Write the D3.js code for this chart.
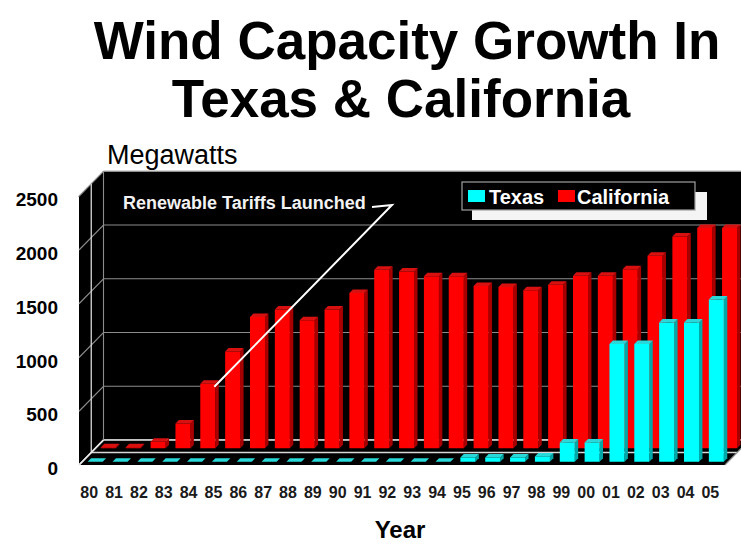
<!DOCTYPE html>
<html>
<head>
<meta charset="utf-8">
<script src="https://cdn.jsdelivr.net/npm/d3@7"></script>
<style>
  html, body { margin: 0; padding: 0; background: #ffffff; }
  svg { display: block; }
  text { font-family: "Liberation Sans", Arial, Helvetica, sans-serif; }
</style>
</head>
<body>
<svg id="chart" width="741" height="544"></svg>
<script>
// Installed wind capacity (MW), 1980-2005
const years = ["80","81","82","83","84","85","86","87","88","89","90","91","92",
               "93","94","95","96","97","98","99","00","01","02","03","04","05"];
const california = [10, 10, 60, 230, 600, 900, 1220, 1290, 1190, 1290, 1445, 1660, 1645,
                    1600, 1600, 1510, 1500, 1470, 1520, 1605, 1605, 1665, 1790, 1970, 2050, 2050];
const texas = [0, 0, 0, 0, 0, 0, 0, 0, 0, 0, 0, 0, 0,
               0, 0, 40, 40, 40, 50, 180, 180, 1095, 1095, 1295, 1295, 1510];
const yTicks = [0, 500, 1000, 1500, 2000, 2500];
const seriesNames = ["Texas", "California"];
const annotationText = "Renewable Tariffs Launched";
const annotationYear = "84";

const svg = d3.select("#chart");

// Oblique 3D projection: front plane x / value, depth d in [0,1] shifts up-right
const x = d3.scaleBand().domain(years).range([79, 725]).paddingInner(0);
const y = d3.scaleLinear().domain([0, 2500]).range([465, 196.25]);
const DX = 24.5, DY = -25;
const P = (px, v, d) => [px + DX * d, y(v) + DY * d];

const barPad = 5.5, barW = 15;
const rows = {
  Texas:      { d0: 0.13, d1: 0.27, front: "#00ffff", side: "#00a8a8", top: "#29d9d9" },
  California: { d0: 0.67, d1: 0.81, front: "#ff0000", side: "#a80000", top: "#d81010" }
};

const xLeft = x.range()[0], xRight = x.range()[1];
const poly = pts => pts.map(p => p.join(",")).join(" ");

// ---- walls and floor ----
const walls = svg.append("g");
// back wall
walls.append("polygon")
  .attr("points", poly([P(xLeft, 0, 1), P(xRight, 0, 1), P(xRight, 2500, 1), P(xLeft, 2500, 1)]))
  .attr("fill", "#000").attr("stroke", "#bdbdbd").attr("stroke-width", 1);
// left side wall
walls.append("polygon")
  .attr("points", poly([P(xLeft, 0, 0), P(xLeft, 0, 1), P(xLeft, 2500, 1), P(xLeft, 2500, 0)]))
  .attr("fill", "#000");
// floor
walls.append("polygon")
  .attr("points", poly([P(xLeft, 0, 0), P(xRight, 0, 0), P(xRight, 0, 1), P(xLeft, 0, 1)]))
  .attr("fill", "#000");

// gridlines on back wall and left wall
const grid = svg.append("g").attr("fill", "none");
yTicks.forEach(v => {
  const a = P(xLeft, v, 0), b = P(xLeft, v, 1), c = P(xRight, v, 1);
  grid.append("polyline")
    .attr("points", poly([a, b, c]))
    .attr("stroke", v === 0 ? "#e8e8e8" : "#8c8c8c")
    .attr("stroke-width", v === 0 ? 1.6 : 1.1);
});
// depth gridline between the two series rows
grid.append("polyline")
  .attr("points", poly([P(xLeft, 2500, 0.5), P(xLeft, 0, 0.5), P(xRight, 0, 0.5)]))
  .attr("stroke", "#d8d8d8").attr("stroke-width", 1.3);
// back corner edge
grid.append("line")
  .attr("x1", P(xLeft, 0, 1)[0]).attr("y1", P(xLeft, 0, 1)[1])
  .attr("x2", P(xLeft, 2500, 1)[0]).attr("y2", P(xLeft, 2500, 1)[1])
  .attr("stroke", "#8c8c8c").attr("stroke-width", 1.1);
// left floor edge
grid.append("line")
  .attr("x1", P(xLeft, 0, 0)[0]).attr("y1", P(xLeft, 0, 0)[1])
  .attr("x2", P(xLeft, 0, 1)[0]).attr("y2", P(xLeft, 0, 1)[1])
  .attr("stroke", "#e8e8e8").attr("stroke-width", 1.6);
// right floor edge
grid.append("line")
  .attr("x1", P(xRight, 0, 0)[0]).attr("y1", P(xRight, 0, 0)[1])
  .attr("x2", P(xRight, 0, 1)[0]).attr("y2", P(xRight, 0, 1)[1])
  .attr("stroke", "#9a9a9a").attr("stroke-width", 1.2);

// ---- 3D bars ----
function drawSeries(name, values) {
  const r = rows[name];
  const g = svg.append("g").attr("class", "series-" + name);
  const bars = g.selectAll("g.bar").data(years.map((yr, i) => ({ yr, v: values[i] })))
    .join("g").attr("class", "bar");
  bars.append("polygon") // right side face
    .attr("points", d => {
      const xr = x(d.yr) + barPad + barW;
      return poly([P(xr, 0, r.d0), P(xr, d.v, r.d0), P(xr, d.v, r.d1), P(xr, 0, r.d1)]);
    })
    .attr("fill", r.side);
  bars.append("polygon") // front face
    .attr("points", d => {
      const xl = x(d.yr) + barPad, xr = xl + barW;
      return poly([P(xl, 0, r.d0), P(xr, 0, r.d0), P(xr, d.v, r.d0), P(xl, d.v, r.d0)]);
    })
    .attr("fill", r.front);
  bars.append("polygon") // top face
    .attr("points", d => {
      const xl = x(d.yr) + barPad, xr = xl + barW;
      return poly([P(xl, d.v, r.d0), P(xr, d.v, r.d0), P(xr, d.v, r.d1), P(xl, d.v, r.d1)]);
    })
    .attr("fill", r.top);
}
drawSeries("California", california);
drawSeries("Texas", texas);

// ---- value axis labels ----
svg.append("g").selectAll("text").data(yTicks).join("text")
  .attr("x", 58).attr("y", d => y(d) + 5)
  .attr("text-anchor", "end").attr("dominant-baseline", "middle")
  .attr("font-size", 19).attr("font-weight", "bold").attr("fill", "#000")
  .text(d => d);

// ---- year labels ----
svg.append("g").selectAll("text").data(years).join("text")
  .attr("x", d => x(d) + x.bandwidth() / 2 - 2.2).attr("y", 498)
  .attr("text-anchor", "middle")
  .attr("font-size", 16).attr("font-weight", "bold").attr("fill", "#1a1a1a")
  .text(d => d);

// ---- titles ----
svg.append("text").attr("x", 407).attr("y", 59).attr("text-anchor", "middle")
  .attr("font-size", 53).attr("font-weight", "bold").attr("fill", "#000")
  .text("Wind Capacity Growth In");
svg.append("text").attr("x", 401).attr("y", 117).attr("text-anchor", "middle")
  .attr("font-size", 53).attr("font-weight", "bold").attr("fill", "#000")
  .text("Texas & California");
svg.append("text").attr("x", 107).attr("y", 164)
  .attr("font-size", 27).attr("fill", "#000")
  .text("Megawatts");
svg.append("text").attr("x", 400).attr("y", 538).attr("text-anchor", "middle")
  .attr("font-size", 24).attr("font-weight", "bold").attr("fill", "#000")
  .text("Year");

// ---- legend ----
const lg = svg.append("g");
lg.append("rect").attr("x", 472).attr("y", 192).attr("width", 235).attr("height", 28).attr("fill", "#f4f4f4");
lg.append("rect").attr("x", 462).attr("y", 182).attr("width", 233).attr("height", 28)
  .attr("fill", "#000").attr("stroke", "#a0a0a0").attr("stroke-width", 1.2);
const legendItems = [
  { name: seriesNames[0], sx: 468, tx: 489 },
  { name: seriesNames[1], sx: 558, tx: 577 }
];
legendItems.forEach(it => {
  lg.append("rect").attr("x", it.sx).attr("y", 190).attr("width", 17).attr("height", 12)
    .attr("fill", rows[it.name].front);
  lg.append("text").attr("x", it.tx).attr("y", 204)
    .attr("font-size", 20).attr("font-weight", "bold").attr("fill", "#fff")
    .text(it.name);
});

// ---- annotation ----
const ai = years.indexOf(annotationYear);
const rc = rows.California;
const tip = P(x(annotationYear) + barPad + barW, california[ai], rc.d0);
svg.append("polyline")
  .attr("points", poly([[372, 207], [392, 205], [tip[0] - 1, tip[1] + 3]]))
  .attr("fill", "none").attr("stroke", "#fff").attr("stroke-width", 2);
svg.append("text").attr("x", 123).attr("y", 209)
  .attr("font-size", 18).attr("font-weight", "bold").attr("fill", "#f2f2f2")
  .text(annotationText);
</script>
</body>
</html>
